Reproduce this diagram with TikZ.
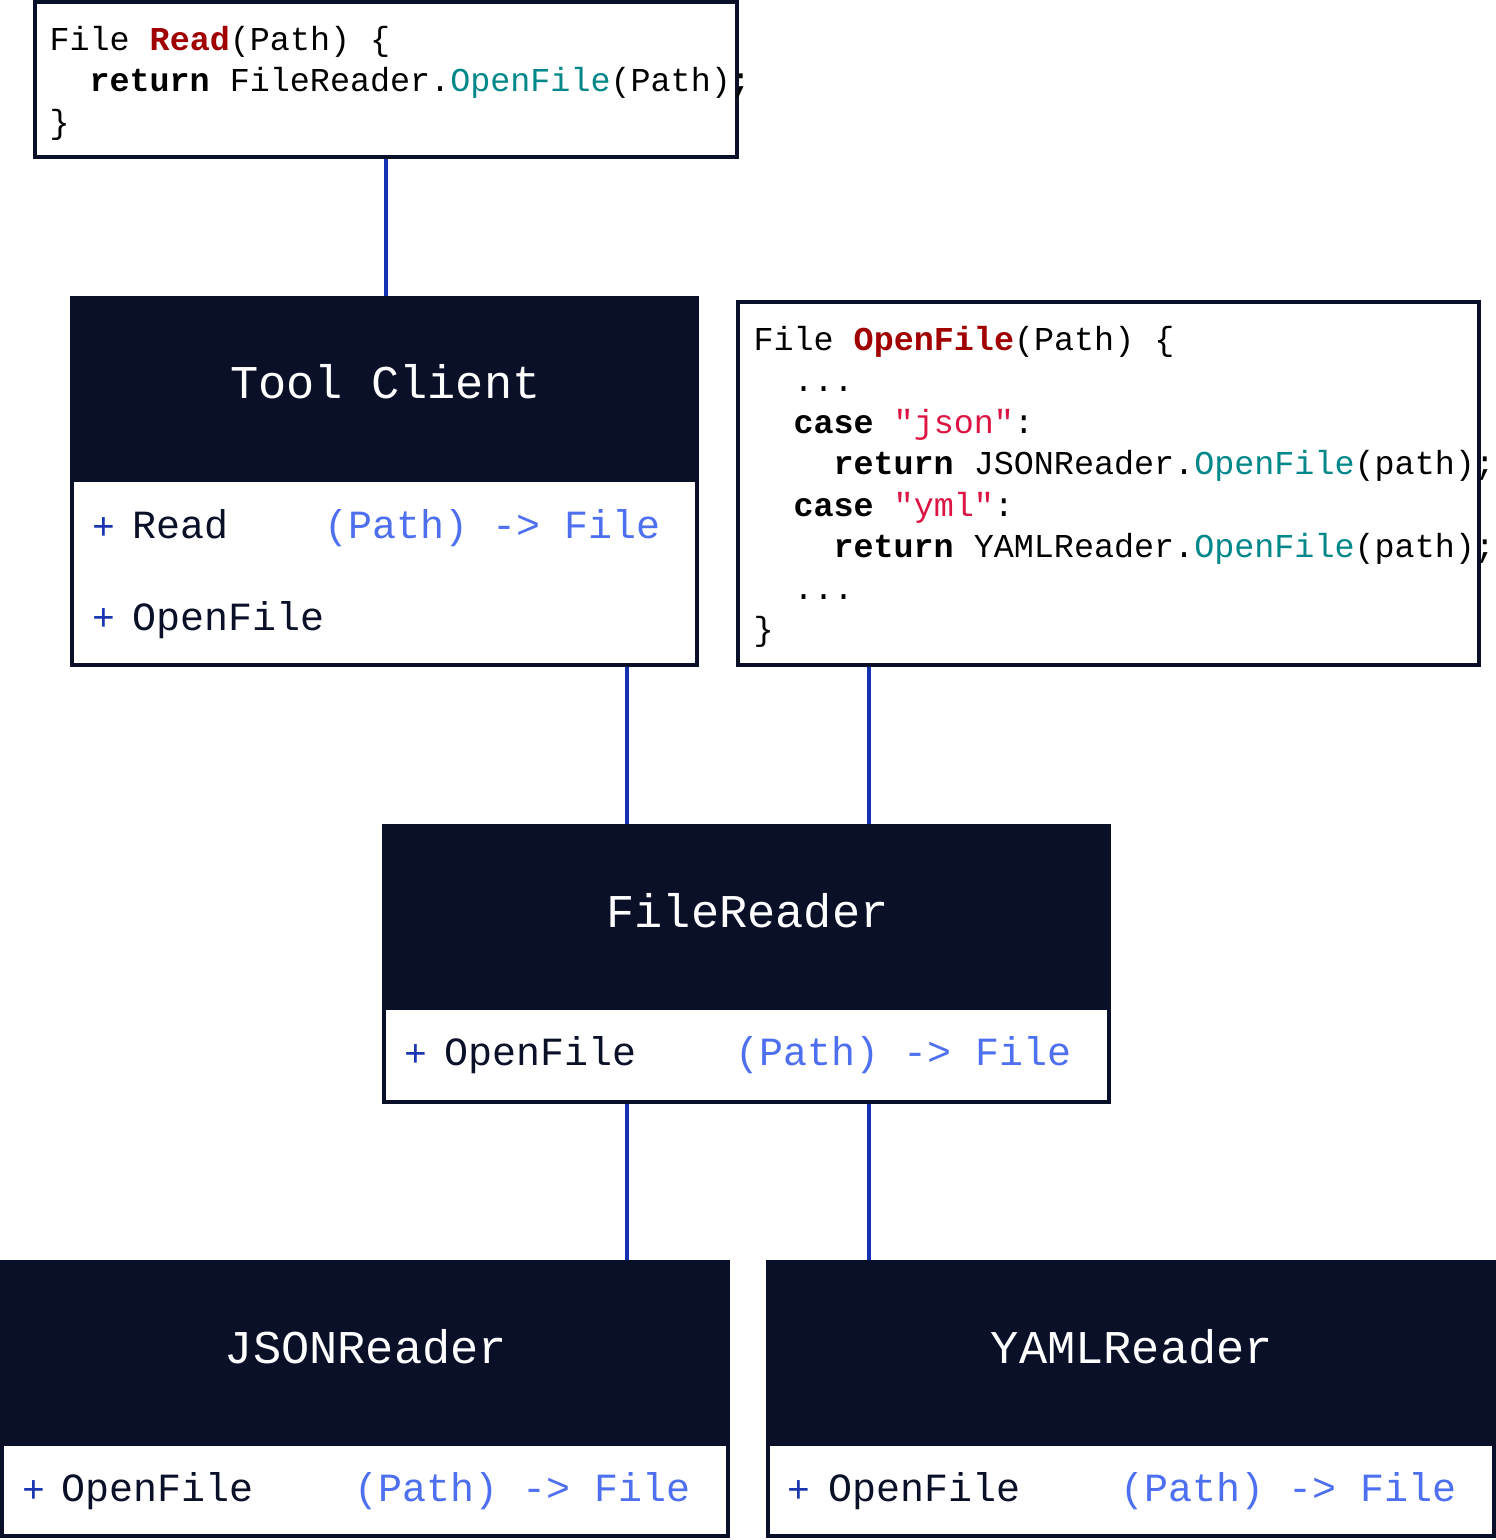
\documentclass[tikz,border=0pt]{standalone}
\usepackage{fontspec}
\setmonofont{Liberation Mono}
\definecolor{navy}{HTML}{0B1029}
\definecolor{connblue}{HTML}{1232B2}
\definecolor{plusblue}{HTML}{1A35B0}
\definecolor{sigblue}{HTML}{4D6FF0}
\definecolor{kwred}{HTML}{A00000}
\definecolor{tealc}{HTML}{00878A}
\definecolor{strred}{HTML}{DC1443}
\pgfdeclarelayer{bg}
\pgfsetlayers{bg,main}
\tikzset{
  txt/.style={inner sep=0pt, outer sep=0pt, anchor=base west},
  codetxt/.style={txt, text=black, font=\ttfamily\frenchspacing\fontsize{33.4}{40}\selectfont},
  rowtxt/.style={txt, text=navy, font=\ttfamily\frenchspacing\fontsize{40}{48}\selectfont},
  plustxt/.style={inner sep=0pt, outer sep=0pt, anchor=base, text=plusblue, font=\ttfamily\fontsize{38}{44}\selectfont},
  sigtxt/.style={rowtxt, text=sigblue},
  titletxt/.style={inner sep=0pt, outer sep=0pt, anchor=base, text=white, font=\ttfamily\fontsize{47}{56}\selectfont},
  box/.style={draw=navy, line width=3.8pt, fill=white, inner sep=0pt, outer sep=0pt},
  head/.style={fill=navy, draw=none, inner sep=0pt, outer sep=0pt},
  conn/.style={draw=connblue, line width=4pt}
}
\begin{document}
\begin{tikzpicture}[x=1pt,y=-1pt]
\useasboundingbox (0,0) rectangle (1496,1540);
% code box 1
\node[box, minimum width=702.2, minimum height=155.2] (code1) at (386,79.5) {};
\node[codetxt] (c1l1) at (49.5,50) {File {\bfseries\color{kwred}Read}(Path) \{};
\node[codetxt] (c1l2) at (89.5,91.5) {{\bfseries return} FileReader.{\color{tealc}OpenFile}(Path);};
\node[codetxt] (c1l3) at (49.5,133) {\}};
% Tool Client
\node[box, minimum width=625.2, minimum height=367.2] (tc) at (384.5,481.5) {};
\node[head, minimum width=629, minimum height=186] (tchead) at (384.5,389) {};
\node[titletxt] (tctitle) at (385.5,398.3) {Tool Client};
\node[plustxt] (tcp1) at (103.5,539) {+};
\node[rowtxt] (tcn1) at (132.5,538.5) {Read};
\node[sigtxt] (tcs1) at (324,538.5) {(Path) -> File};
\node[plustxt] (tcp2) at (103.5,630.5) {+};
\node[rowtxt] (tcn2) at (132.5,630) {OpenFile};
% code box 2
\node[box, minimum width=741.2, minimum height=363.2] (code2) at (1108.5,483.5) {};
\node[codetxt] (c2l1) at (753.5,350) {File {\bfseries\color{kwred}OpenFile}(Path) \{};
\node[codetxt] (c2l2) at (793.5,391.5) {...};
\node[codetxt] (c2l3) at (793.5,433) {{\bfseries case} {\color{strred}"json"}:};
\node[codetxt] (c2l4) at (833.5,474.5) {{\bfseries return} JSONReader.{\color{tealc}OpenFile}(path);};
\node[codetxt] (c2l5) at (793.5,516) {{\bfseries case} {\color{strred}"yml"}:};
\node[codetxt] (c2l6) at (833.5,557.5) {{\bfseries return} YAMLReader.{\color{tealc}OpenFile}(path);};
\node[codetxt] (c2l7) at (793.5,599) {...};
\node[codetxt] (c2l8) at (753.5,640.5) {\}};
% FileReader
\node[box, minimum width=725.2, minimum height=276.2] (fr) at (746.5,964) {};
\node[head, minimum width=729, minimum height=186] (frhead) at (746.5,917) {};
\node[titletxt] (frtitle) at (747.5,927) {FileReader};
\node[plustxt] (frp) at (415.5,1066) {+};
\node[rowtxt] (frn) at (444.5,1065.5) {OpenFile};
\node[sigtxt] (frs) at (735,1065.5) {(Path) -> File};
% JSONReader
\node[box, minimum width=726.2, minimum height=274.2] (json) at (365,1399) {};
\node[head, minimum width=730, minimum height=186] (jsonhead) at (365,1353) {};
\node[titletxt] (jsontitle) at (366,1363.5) {JSONReader};
\node[plustxt] (jsonp) at (33.5,1502) {+};
\node[rowtxt] (jsonn) at (61.5,1501.5) {OpenFile};
\node[sigtxt] (jsons) at (354,1501.5) {(Path) -> File};
% YAMLReader
\node[box, minimum width=726.2, minimum height=274.2] (yaml) at (1131,1399) {};
\node[head, minimum width=730, minimum height=186] (yamlhead) at (1131,1353) {};
\node[titletxt] (yamltitle) at (1132,1363.5) {YAMLReader};
\node[plustxt] (yamlp) at (798.5,1502) {+};
\node[rowtxt] (yamln) at (828.5,1501.5) {OpenFile};
\node[sigtxt] (yamls) at (1120,1501.5) {(Path) -> File};
% connectors
\coordinate (xa) at (627,0);
\coordinate (xb) at (869,0);
\begin{pgfonlayer}{bg}
\draw[conn] (code1.south) -- (code1.south |- tc.north);
\draw[conn] (xa |- tc.south) -- (xa |- fr.north);
\draw[conn] (xb |- code2.south) -- (xb |- fr.north);
\draw[conn] (xa |- fr.south) -- (xa |- json.north);
\draw[conn] (xb |- fr.south) -- (xb |- yaml.north);
\end{pgfonlayer}
\end{tikzpicture}
\end{document}
